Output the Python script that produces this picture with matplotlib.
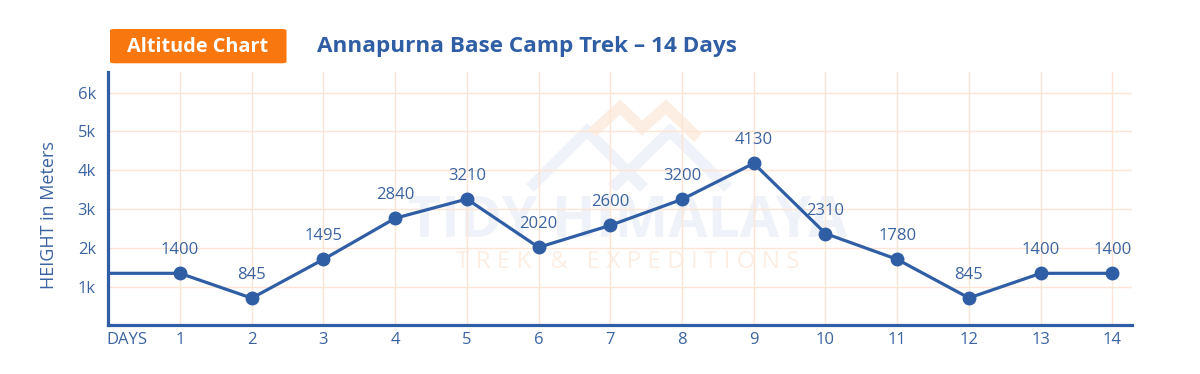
import matplotlib
matplotlib.use("Agg")
import matplotlib.pyplot as plt
from matplotlib.patches import FancyBboxPatch
from matplotlib.lines import Line2D

# ---- data ----
days = [0, 1, 2, 3, 4, 5, 6, 7, 8, 9, 10, 11, 12, 13, 14]
heights = [1340, 1340, 700, 1700, 2760, 3255, 2010, 2577, 3247, 4175, 2366, 1700, 705, 1340, 1340]
height_labels = [None, "1400", "845", "1495", "2840", "3210", "2020", "2600", "3200",
                 "4130", "2310", "1780", "845", "1400", "1400"]
x_ticks = list(range(1, 15))
x_tick_labels = [str(d) for d in x_ticks]
y_ticks = [1000, 2000, 3000, 4000, 5000, 6000]
y_tick_labels = ["1k", "2k", "3k", "4k", "5k", "6k"]
title = "Annapurna Base Camp Trek \u2013 14 Days"
badge = "Altitude Chart"

BLUE = "#2F5EA5"
TEXT_BLUE = "#3B63A0"
GRID = "#FBE5D4"
ORANGE = "#F8780F"
FONT = ["Open Sans", "DejaVu Sans"]
TFONT = ["Open Sans", "DejaVu Sans"]

W, H = 1200, 374
fig = plt.figure(figsize=(W / 100, H / 100), dpi=100)
fig.patch.set_facecolor("white")

ax = fig.add_axes([108.3 / W, 1 - 325.3 / H, (1131.7 - 108.3) / W, (325.3 - 72) / H])
ax.set_xlim(0, 14.27)
ax.set_ylim(0, 6530)


def px(x, y):
    return x / W, 1 - y / H


# watermark (decorative, behind everything)
wm_blue = "#EFF2F8"
wm_orange = "#FDEEE4"
for xs, ys, c in [
    ([530, 587, 644], [188, 131, 188], wm_blue),
    ([612, 670, 728], [188, 131, 188], wm_blue),
    ([592, 620, 642, 666, 698], [133, 107, 128, 107, 138], wm_orange),
]:
    pts = [px(x, y) for x, y in zip(xs, ys)]
    ax.add_line(Line2D([p[0] for p in pts], [p[1] for p in pts], transform=fig.transFigure,
                       color=c, linewidth=8, solid_capstyle="butt", solid_joinstyle="miter",
                       zorder=0.1))
ax.text(*px(628, 222), "TIDY HIMALAYA", transform=fig.transFigure, ha="center", va="center",
        fontsize=41, fontweight="bold", color=wm_blue, family=FONT, zorder=0.1)
ax.text(*px(628, 262), "T R E K   &   E X P E D I T I O N S", transform=fig.transFigure,
        ha="center", va="center", fontsize=17.5, color=wm_orange, family=FONT, zorder=0.1)

for s in ["top", "right"]:
    ax.spines[s].set_visible(False)
for s in ["left", "bottom"]:
    ax.spines[s].set_color(BLUE)
    ax.spines[s].set_linewidth(2.3)

ax.set_xticks(x_ticks)
ax.set_xticklabels(x_tick_labels)
ax.set_yticks(y_ticks)
ax.set_yticklabels(y_tick_labels)
ax.tick_params(axis="both", length=0, labelsize=12, labelcolor=TEXT_BLUE)
ax.tick_params(axis="x", pad=5)
ax.tick_params(axis="y", pad=9)
for lab in ax.get_xticklabels() + ax.get_yticklabels():
    lab.set_family(FONT)

ax.grid(True, color=GRID, linewidth=1.0, zorder=0.5)
ax.set_axisbelow(True)

ax.plot(days, heights, color=BLUE, linewidth=2.3, zorder=3, solid_joinstyle="round")
ax.plot(days[1:], heights[1:], linestyle="none", marker="o", markersize=9,
        color=BLUE, zorder=4)
for d, h, lab in zip(days, heights, height_labels):
    if lab is None:
        continue
    ax.annotate(lab, (d, h), xytext=(0, 16.5), textcoords="offset points",
                ha="center", va="center", fontsize=12, color=TEXT_BLUE, family=FONT, zorder=5)

ax.text(*px(127, 339.5), "DAYS", transform=fig.transFigure, ha="center", va="center",
        fontsize=12, color=TEXT_BLUE, family=FONT)
fig.text(*px(49, 215), "HEIGHT in Meters", rotation=90, ha="center", va="center",
         fontsize=13, color=TEXT_BLUE, family=FONT)

# badge
box = FancyBboxPatch(px(110, 63.3), (286.5 - 110) / W, (63.3 - 29) / H,
                     boxstyle="round,pad=0,rounding_size=0.004", transform=fig.transFigure,
                     facecolor=ORANGE, edgecolor="none")
fig.patches.append(box)
fig.text(*px(198, 46.5), badge, ha="center", va="center", fontsize=14.3,
         fontweight="bold", color="white", family=TFONT)
fig.text(*px(317, 46.5), title, ha="left", va="center", fontsize=16.2,
         fontweight="bold", color=BLUE, family=TFONT)

fig.savefig("out.png", dpi=100, facecolor="white")
